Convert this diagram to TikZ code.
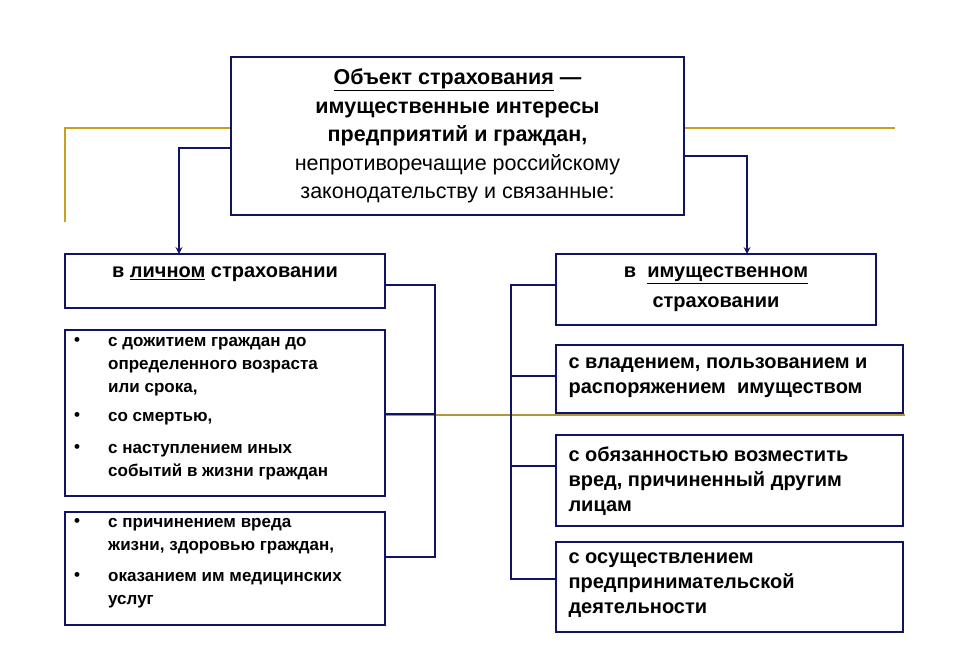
\documentclass[tikz,border=0pt]{standalone}
\usepackage{fontspec}
\setmainfont{Liberation Sans}
\newcommand\myul[1]{\underline{#1}}
\begin{document}
\begin{tikzpicture}[x=1pt,y=-1pt,
  bx/.style={draw=navy,line width=2.8pt,fill=white,inner sep=0pt},
  con/.style={draw=navy,line width=2pt},
  gold/.style={draw=goldc,line width=2.4pt},
  txt/.style={font=\fontsize{20}{25}\selectfont\bfseries,align=left,anchor=west},
  ltxt/.style={font=\fontsize{19}{23}\selectfont\bfseries,align=left,anchor=north west,inner sep=0pt}]
\definecolor{navy}{RGB}{16,20,100}
\definecolor{goldc}{RGB}{200,160,30}
\useasboundingbox (0,0) rectangle (960,651);
% gold lines
\draw[gold] (65,222) -- (65,128) -- (231,128);
\draw[gold] (684,128) -- (895,128);
\draw[draw=goldc!70!gray,line width=2pt] (385,415) -- (905,415);
% boxes
\path[bx] (231,57) rectangle (684,215);
\node (top) at (457.5,136) [align=center,font=\fontsize{21.5}{28.5}\selectfont] {\textbf{\myul{Объект страхования} —}\\ \textbf{имущественные интересы}\\ \textbf{предприятий и граждан,}\\ непротиворечащие российскому\\ законодательству и связанные:};
\path[bx] (65,254) rectangle (385,308);
\path[bx] (65,330) rectangle (385,496);
\path[bx] (65,512) rectangle (385,625);
\path[bx] (556,254) rectangle (876,325);
\path[bx] (556,345) rectangle (903,413);
\path[bx] (556,435) rectangle (903,526);
\path[bx] (556,542) rectangle (903,632);
\node (l1) at (225,274) [font=\fontsize{20}{24}\selectfont\bfseries] {в \myul{личном} страховании};
\node (r1) at (716,289) [align=center,font=\fontsize{20}{30}\selectfont\bfseries] {в \ \myul{имущественном}\\ страховании};
\foreach \y/\t in {337/{с дожитием граждан до\\определенного возраста\\или срока,}, 412/{со смертью,}, 444/{с наступлением иных\\событий в жизни граждан}, 518/{с причинением вреда\\жизни, здоровью граждан,}, 572/{оказанием им медицинских\\услуг}}{
  \node[ltxt,font=\fontsize{17}{23}\selectfont\bfseries] at (108,\y) {\t};
  \node[anchor=north,inner sep=0pt,font=\fontsize{17}{23}\selectfont\bfseries] at (77,\y) {•};
}
\node[txt] (r2) at (565,377.5) {с владением, пользованием и\\распоряжением \ имуществом};
\node[txt] (r3) at (565,481) {с обязанностью возместить\\вред, причиненный другим\\лицам};
\node[txt] (r4) at (565,585) {с осуществлением\\предпринимательской\\деятельности};
% connectors
\draw[con,-stealth] (231,148) -- (179,148) -- (179,254);
\draw[con,-stealth] (684,156) -- (747,156) -- (747,254);
\draw[con] (385,285) -- (435,285) -- (435,557) -- (385,557);
\draw[con] (385,414) -- (435,414);
\draw[con] (556,285) -- (511,285) -- (511,579) -- (556,579);
\draw[con] (511,376) -- (556,376);
\draw[con] (511,466) -- (556,466);
\end{tikzpicture}
\end{document}
